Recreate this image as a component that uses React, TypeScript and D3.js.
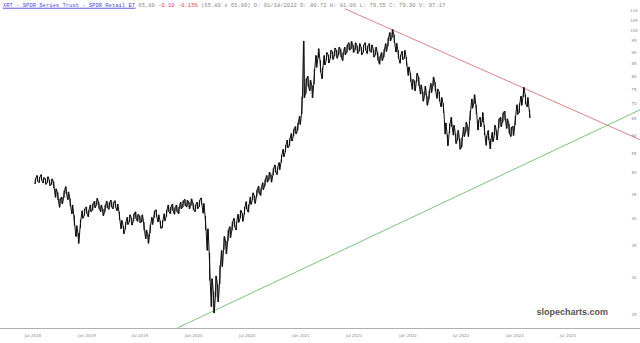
import React from "react";
import * as d3 from "d3";

const W = 640;
const H = 343;

// Weekly bars, first week starting 2018-07-09
const firstWeek = "2018-07-09";
const weekLow = [
  47.3, 47.9, 47.6, 48.1, 47.5, 47.2, 47.6, 46.9, 47.1, 46.3, 44.3, 43.7, 42.2, 42.9, 44.2, 45.1, 43.8, 42.4, 40.9, 38.6,
  36.6, 35.4, 38.1, 40.0, 40.5, 40.9, 40.3, 41.3, 41.6, 42.1, 42.7, 41.9, 41.3, 40.5, 41.3, 42.1, 41.8, 42.3, 41.9, 42.2,
  41.5, 39.7, 38.0, 37.1, 37.9, 38.8, 39.3, 38.7, 39.5, 39.9, 39.4, 39.1, 39.3, 37.7, 36.2, 35.4, 37.2, 38.8, 40.1, 40.3,
  39.3, 38.1, 38.2, 39.5, 40.3, 41.3, 40.9, 41.5, 40.8, 41.3, 40.9, 41.9, 42.2, 42.5, 42.3, 41.9, 42.6, 41.7, 41.3, 41.9,
  42.3, 42.8, 41.0, 37.8, 34.2, 29.5, 26.0, 25.2, 27.2, 26.6, 29.0, 31.6, 34.3, 33.6, 35.8, 36.4, 37.7, 38.4, 37.8, 39.2,
  40.0, 39.4, 40.7, 41.8, 41.2, 42.8, 43.7, 43.0, 44.4, 45.2, 44.7, 46.0, 46.8, 47.7, 48.3, 47.7, 49.3, 50.1, 49.5, 50.7,
  52.5, 54.0, 55.2, 56.4, 56.9, 58.3, 59.7, 60.4, 61.4, 63.2, 66.5, 72.0, 73.5, 76.0, 74.5, 72.0, 77.0, 83.5, 87.5, 81.5,
  79.0, 84.5, 86.3, 85.3, 87.3, 86.8, 88.3, 87.3, 88.8, 87.8, 86.3, 88.8, 89.8, 90.8, 91.3, 89.8, 90.8, 89.3, 90.3, 88.8,
  89.8, 90.8, 89.3, 90.3, 89.8, 87.8, 88.8, 86.3, 84.8, 86.3, 87.8, 90.2, 92.6, 95.0, 96.5, 94.0, 90.0, 87.2, 85.2, 86.7,
  87.2, 84.2, 80.3, 77.8, 75.0, 74.5, 77.8, 76.3, 73.3, 70.8, 72.8, 69.4, 71.4, 73.8, 76.3, 74.3, 71.8, 70.8, 68.9, 66.9,
  60.3, 57.0, 60.5, 62.5, 60.0, 57.6, 58.6, 56.0, 56.6, 59.6, 61.0, 59.6, 64.5, 68.4, 69.9, 66.4, 61.5, 62.5, 64.0, 60.0,
  57.1, 58.6, 56.1, 58.1, 60.0, 58.6, 62.0, 62.5, 64.0, 64.5, 62.0, 60.5, 59.6, 59.9, 63.0, 66.4, 66.9, 69.4, 72.3, 69.8,
  68.9, 65.3,
];
const weekHigh = [
  48.6, 49.3, 48.9, 49.5, 48.8, 48.6, 49.0, 48.2, 48.5, 47.9, 46.2, 45.4, 44.0, 44.4, 45.8, 46.7, 45.5, 44.1, 42.7, 40.6,
  38.6, 37.2, 39.8, 41.5, 41.9, 42.3, 41.7, 42.7, 43.0, 43.5, 44.1, 43.3, 42.7, 41.9, 42.7, 43.5, 43.2, 43.7, 43.3, 43.6,
  42.9, 41.3, 39.6, 38.6, 39.3, 40.2, 40.7, 40.1, 40.9, 41.3, 40.8, 40.5, 40.7, 39.3, 37.8, 37.0, 38.8, 40.2, 41.5, 41.7,
  40.7, 39.5, 39.6, 40.9, 41.7, 42.7, 42.3, 42.9, 42.2, 42.7, 42.3, 43.3, 43.6, 43.9, 43.7, 43.3, 44.0, 43.1, 42.7, 43.3,
  43.7, 44.2, 43.0, 40.5, 38.0, 33.8, 29.8, 28.0, 30.2, 29.0, 31.8, 34.2, 36.6, 35.8, 37.8, 38.4, 39.3, 40.0, 39.4, 40.8,
  41.6, 41.0, 42.3, 43.4, 42.8, 44.4, 45.3, 44.6, 46.0, 46.8, 46.3, 47.6, 48.4, 49.3, 50.1, 49.5, 51.1, 51.9, 51.3, 52.5,
  54.5, 56.0, 57.2, 58.6, 59.1, 60.5, 61.9, 62.6, 63.8, 65.8, 72.5, 95.0, 79.0, 80.0, 78.5, 76.5, 83.0, 88.5, 91.5, 86.5,
  83.5, 88.5, 89.8, 88.8, 90.8, 90.2, 91.8, 90.8, 92.2, 91.2, 89.8, 92.2, 93.2, 94.2, 94.8, 93.2, 94.2, 92.8, 93.8, 92.2,
  93.2, 94.2, 92.8, 93.8, 93.2, 91.2, 92.2, 89.8, 88.2, 89.8, 91.2, 93.8, 96.4, 99.0, 100.5, 98.0, 94.0, 90.8, 88.8, 90.3,
  90.8, 87.8, 83.7, 81.2, 78.8, 78.3, 81.2, 79.7, 76.7, 74.2, 76.2, 72.6, 74.6, 77.2, 79.7, 77.7, 75.2, 74.2, 72.1, 70.1,
  63.7, 60.2, 63.5, 65.5, 63.0, 60.5, 61.4, 59.0, 59.4, 62.4, 64.0, 62.4, 67.5, 71.6, 73.1, 69.6, 64.5, 65.5, 67.0, 63.0,
  59.9, 61.4, 58.9, 60.9, 63.0, 61.4, 65.0, 65.5, 67.0, 67.5, 65.0, 63.5, 62.4, 62.7, 66.0, 69.6, 70.1, 72.6, 75.8, 73.2,
  72.1, 68.0,
];

const yTickValues = [110, 105, 100, 95, 90, 85, 80, 75, 70, 65, 60, 55, 50, 45, 40, 35, 30, 25];
const xTickDates = [
  "2018-07-01", "2019-01-01", "2019-07-01", "2020-01-01", "2020-07-01", "2021-01-01",
  "2021-07-01", "2022-01-01", "2022-07-01", "2023-01-01", "2023-07-01",
];

// Trend lines: [date, price] endpoints
const redTrend = [["2021-05-31", 111.1], ["2024-03-03", 58.7]];
const greenTrend = [["2019-11-07", 23.45], ["2024-03-03", 67.9]];

const headerParts = [
  { t: "XRT - SPDR Series Trust - SPDR Retail ET", c: "#4a4adf", u: true },
  { t: " 65.89 ", c: "#8a8a8a" },
  { t: "-0.10 -0.15%", c: "#e0454b" },
  { t: " (65.89 x 65.89) D: 01/18/2022 O: 80.72 H: 81.06 L: 79.55 C: 79.90 V: 97.17", c: "#8a8a8a" },
];

export default function App() {
  const parse = d3.utcParse("%Y-%m-%d");
  const x = d3
    .scaleUtc()
    .domain([parse("2018-07-01")!, parse("2023-07-01")!])
    .range([33, 568]);
  const y = d3.scaleLog().domain([23.43, 116.0]).range([328, 0]);
  const start = parse(firstWeek)!;
  const fmt = d3.utcFormat("%b %Y");

  const bars = weekLow.map((lo, i) => {
    const dt = d3.utcDay.offset(start, i * 7);
    return { x: x(dt), lo, hi: weekHigh[i] };
  });

  // zig-zag path visiting low/high of each bar, like a dense daily trace
  const pts: [number, number][] = [];
  bars.forEach((b, i) => {
    const up = i % 2 === 0;
    pts.push([b.x - 0.5, y(up ? b.lo : b.hi)]);
    pts.push([b.x + 0.5, y(up ? b.hi : b.lo)]);
  });
  const trace = d3.line()(pts) || "";

  const trend = (tr: any[], color: string) => {
    const [a, b] = tr;
    return (
      <line
        x1={x(parse(a[0])!)}
        y1={y(a[1])}
        x2={x(parse(b[0])!)}
        y2={y(b[1])}
        stroke={color}
        strokeWidth={0.8}
      />
    );
  };

  return (
    <svg
      width={W}
      height={H}
      style={{ position: "absolute", left: 0, top: 0, background: "#fff" }}
    >
      <rect width={W} height={H} fill="#fff" />
      <text x={3} y={7} fontFamily="'Liberation Mono', monospace" fontSize={5.5} xmlSpace="preserve">
        {headerParts.map((p, i) => (
          <tspan key={i} fill={p.c} textDecoration={p.u ? "underline" : undefined}>
            {p.t}
          </tspan>
        ))}
      </text>
      <line x1={3} x2={136} y1={8} y2={8} stroke="#4a4adf" strokeWidth={0.5} />

      {yTickValues.map((v) => (
        <text
          key={v}
          x={634}
          y={y(v) + 1.5}
          fontSize={4}
          fill="#8a8a8a"
          textAnchor="middle"
          fontFamily="'DejaVu Sans', sans-serif"
        >
          {v}
        </text>
      ))}

      <line x1={0} x2={W} y1={328.5} y2={328.5} stroke="#9a9a9a" strokeWidth={0.8} />
      {xTickDates.map((d) => (
        <text
          key={d}
          x={x(parse(d)!)}
          y={337}
          fontSize={4}
          fill="#8a8a8a"
          textAnchor="middle"
          fontFamily="'DejaVu Sans', sans-serif"
        >
          {fmt(parse(d)!)}
        </text>
      ))}

      {trend(redTrend, "#d0646c")}
      {trend(greenTrend, "#5fb35a")}

      <path d={trace} fill="none" stroke="#111" strokeWidth={1} strokeLinejoin="round" />
      <g stroke="#111" strokeWidth={1}>
        {bars.map((b, i) => (
          <line key={i} x1={b.x} x2={b.x} y1={y(b.hi)} y2={y(b.lo)} />
        ))}
      </g>

      <text
        x={608}
        y={315}
        textAnchor="end"
        fontSize={9}
        fontWeight="bold"
        fill="#555"
        fontFamily="'Liberation Sans', Arial, sans-serif"
      >
        slopecharts.com
      </text>
    </svg>
  );
}
